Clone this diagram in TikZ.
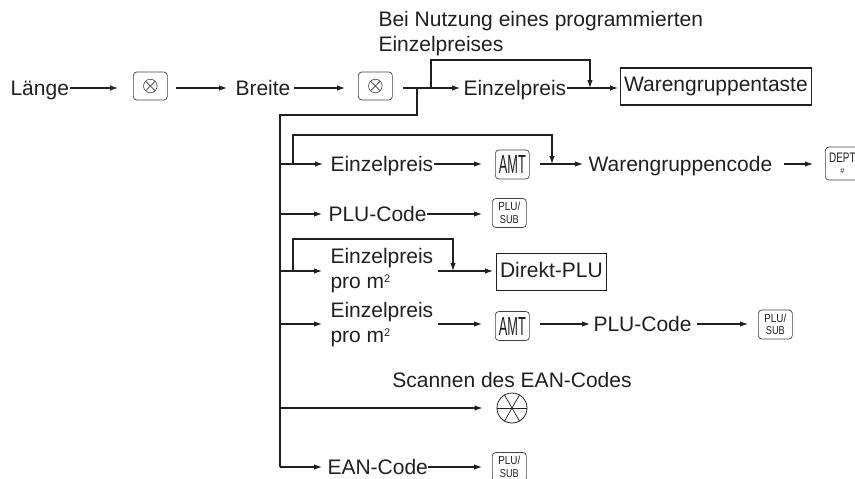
\documentclass[tikz,border=0pt]{standalone}
\usepackage{fontspec}
\usepackage{graphicx}
\setmainfont{Liberation Sans}
\usetikzlibrary{arrows.meta}
\definecolor{ink}{HTML}{231F20}
\newcommand{\sqm}{m\raisebox{0.55ex}{\fontsize{11}{11}\selectfont 2}}
\newcommand{\amtlabel}{\resizebox{27pt}{18pt}{AMT}}
\newcommand{\plulabel}{\resizebox{22pt}{8.5pt}{PLU/}\\[2.5pt]\resizebox{19pt}{8pt}{SUB}}
\newcommand{\deptlabel}{\resizebox{26.5pt}{9.5pt}{DEPT}\hspace{4pt}\\[1pt]{\fontsize{7.5}{7.5}\selectfont\#}}
\begin{document}
\begin{tikzpicture}[x=1pt,y=-1pt,
  font=\fontsize{21}{25}\selectfont,
  color=ink,
  line width=1.1pt,
  txt/.style={inner sep=0pt, text height=15pt, text depth=0pt, anchor=west},
  two/.style={inner sep=0pt, align=left, anchor=west, font=\fontsize{21}{25}\selectfont},
  frame/.style={draw, line width=1.1pt, inner xsep=3.5pt, inner ysep=0pt, text height=15pt, text depth=4.5pt, minimum height=37pt, anchor=west},
  keybox/.style={draw=ink!85, line width=0.7pt, rounded corners=3.5pt, minimum width=34pt, minimum height=29pt, inner sep=0pt, anchor=west, align=center, font=\fontsize{10}{10}\selectfont},
  xkey/.style={keybox, minimum height=28pt, path picture={
      \coordinate (pc) at (path picture bounding box.center);
      \draw[line width=0.6pt] (pc) circle[radius=6.8pt];
      \draw[line width=0.6pt] ([shift={(-4.8pt,-4.8pt)}]pc) -- ([shift={(4.8pt,4.8pt)}]pc);
      \draw[line width=0.6pt] ([shift={(-4.8pt,4.8pt)}]pc) -- ([shift={(4.8pt,-4.8pt)}]pc);}},
  arr/.style={-{Latex[length=8pt,width=5.5pt]}},
]
\useasboundingbox (0,0) rectangle (855,479);

% ---------- row 1 ----------
\node[txt] (laenge) at (10,88) {Länge};
\node[xkey] (k1) at (133,86) {};
\node[txt] (breite) at (235,88) {Breite};
\node[xkey] (k2) at (358,86) {};
\node[txt] (ep1) at (463,88) {Einzelpreis};
\node[frame] (ware) at (620,86.5) {Warengruppentaste};
\node[anchor=north west, align=left, inner sep=0pt] (note) at (378,11) {Bei Nutzung eines programmierten\\Einzelpreises};

\coordinate (j1) at (417,88);
\coordinate (t0) at (280,115);
\coordinate (l1a) at (431,88);
\coordinate (l1b) at (590,88);

\draw[arr, shorten <=1pt, shorten >=15pt] (laenge.east) -- (laenge.east -| k1.west);
\draw[arr, shorten <=8pt, shorten >=8pt] (k1.east |- breite.west) -- (breite.west);
\draw[arr, shorten <=3pt, shorten >=13pt] (breite.east) -- (breite.east -| k2.west);
\draw[arr, shorten <=10pt, shorten >=3pt] (k2.east |- ep1.west) -- (ep1.west);
\draw[arr] (l1a) -- ++(0,-28) -| (l1b);
\draw[arr, shorten >=2pt] (ep1.east) -- (ep1.east -| ware.west);

% ---------- trunk ----------
\coordinate (b2) at (280,164);
\coordinate (b3) at (280,214);
\coordinate (b4) at (280,271);
\coordinate (b5) at (280,324);
\coordinate (b6) at (280,408);
\coordinate (b7) at (280,467);
\draw (j1) |- (t0) -- (b7);

% ---------- row 2 ----------
\node[txt] (ep2) at (330,164) {Einzelpreis};
\node[keybox] (amt1) at (495,164.5) {\amtlabel};
\node[txt] (wcode) at (588,164) {Warengruppencode};
\node[keybox, minimum height=33pt] (dept) at (825,163.5) {\deptlabel};
\coordinate (l2a) at (293,164);
\coordinate (l2b) at (552,164);
\draw[arr, shorten >=7pt] (b2) -- (ep2.west);
\draw[arr] (l2a) -- ++(0,-29) -| (l2b);
\draw[arr, shorten >=13pt] (ep2.east) -- (ep2.east -| amt1.west);
\draw[arr, shorten <=10pt, shorten >=5pt] (amt1.east |- wcode.west) -- (wcode.west);
\draw[arr, shorten <=11pt, shorten >=12pt] (wcode.east) -- (wcode.east -| dept.west);

% ---------- row 3 ----------
\node[txt] (plu3) at (328,214) {PLU-Code};
\node[keybox] (ps1) at (492,213) {\plulabel};
\draw[arr, shorten >=6pt] (b3) -- (plu3.west);
\draw[arr, shorten >=10pt] (plu3.east) -- (plu3.east -| ps1.west);

% ---------- row 4 ----------
\node[two] (ep4) at (330,271) {Einzelpreis\\pro \sqm};
\node[frame] (direkt) at (496,272) {Direkt-PLU};
\coordinate (l4a) at (293,271);
\coordinate (l4b) at (453,271);
\draw[arr, shorten >=8pt] (b4) -- (b4 -| ep4.west);
\draw[arr] (l4a) -- ++(0,-32) -| (l4b);
\draw[arr, shorten <=4pt, shorten >=3pt] (ep4.east |- b4) -- (b4 -| direkt.west);

% ---------- row 5 ----------
\node[two] (ep5) at (330,325) {Einzelpreis\\pro \sqm};
\node[keybox] (amt2) at (495,326) {\amtlabel};
\node[txt] (plu5) at (593,324) {PLU-Code};
\node[keybox] (ps2) at (758,324.5) {\plulabel};
\draw[arr, shorten >=8pt] (b5) -- (b5 -| ep5.west);
\draw[arr, shorten <=4pt, shorten >=13pt] (ep5.east |- b5) -- (b5 -| amt2.west);
\draw[arr, shorten <=10pt, shorten >=3pt] (amt2.east |- plu5.west) -- (plu5.west);
\draw[arr, shorten <=5pt, shorten >=10pt] (plu5.east) -- (plu5.east -| ps2.west);

% ---------- row 6 ----------
\node[txt, anchor=center] (scanlbl) at (512,380) {Scannen des EAN-Codes};
\node[circle, draw, line width=0.8pt, minimum size=30pt, inner sep=0pt] (scan) at (512,408) {};
\draw[line width=0.7pt] (scan.west) -- (scan.east);
\draw[line width=0.7pt] (scan.60) -- (scan.240);
\draw[line width=0.7pt] (scan.120) -- (scan.300);
\draw[arr, shorten >=14pt] (b6) -- (scan.west);

% ---------- row 7 ----------
\node[txt] (ean) at (327,467) {EAN-Code};
\node[keybox] (ps3) at (492,467) {\plulabel};
\draw[arr, shorten >=5pt] (b7) -- (ean.west);
\draw[arr, shorten >=10pt] (ean.east) -- (ean.east -| ps3.west);
\end{tikzpicture}
\end{document}
